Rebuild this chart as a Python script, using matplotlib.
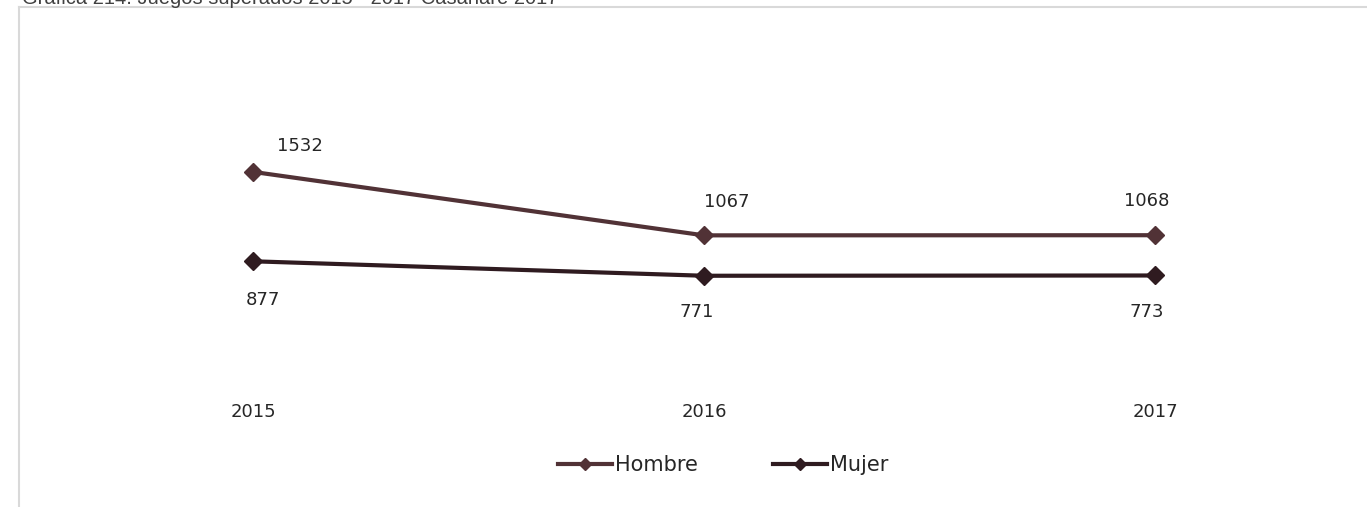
import matplotlib.pyplot as plt
from matplotlib.lines import Line2D

years = ['2015', '2016', '2017']
hombre = [1532, 1067, 1068]
mujer = [877, 771, 773]

c_hombre = '#513236'
c_mujer = '#2f1b20'

# label offsets in pixels (from each point)
off_h = [(47, 26), (23, 33), (-8, 34)]
off_m = [(10, -39), (-7, -36), (-8, -37)]

fig = plt.figure(figsize=(13.67, 5.07), dpi=100)
ax = fig.add_axes([253 / 1367, 126 / 507, 902 / 1367, 1800 * 0.1365 / 507])

x = list(range(len(years)))
ax.plot(x, hombre, color=c_hombre, lw=3, marker='D', ms=9.5, clip_on=False, label='Hombre')
ax.plot(x, mujer, color=c_mujer, lw=3, marker='D', ms=9.5, clip_on=False, label='Mujer')

for i in x:
    ax.annotate(str(hombre[i]), (i, hombre[i]), xytext=off_h[i], textcoords='offset pixels',
                ha='center', va='center', fontsize=13, color='#262626')
    ax.annotate(str(mujer[i]), (i, mujer[i]), xytext=off_m[i], textcoords='offset pixels',
                ha='center', va='center', fontsize=13, color='#262626')

ax.set_xlim(0, 2)
ax.set_ylim(0, 1800)
ax.set_xticks(x)
ax.set_xticklabels(years, fontsize=13, color='#262626')
ax.tick_params(axis='x', length=0, pad=16)
ax.set_yticks([])
for s in ax.spines.values():
    s.set_visible(False)

fig.legend(loc='center', bbox_to_anchor=(723 / 1367, 1 - 465 / 507), ncol=2, frameon=False,
           fontsize=15, handlelength=2.6, handletextpad=0.15, columnspacing=3.6,
           markerscale=0.6, labelcolor='#262626')

# outer chart border
fig.add_artist(Line2D([18.5 / 1367, 18.5 / 1367], [0, 1 - 6.5 / 507], color='#d9d9d9', lw=1.5,
                      transform=fig.transFigure))
fig.add_artist(Line2D([18.5 / 1367, 1], [1 - 6.5 / 507, 1 - 6.5 / 507], color='#d9d9d9', lw=1.5,
                      transform=fig.transFigure))

# title, clipped at the top edge as in the source
fig.text(22 / 1367, 1 - 3.5 / 507, 'Gráfica 214. Juegos superados 2015 - 2017 Casanare 2017',
         fontsize=14.5, family='Liberation Sans', color='#404040', va='baseline', ha='left')

fig.savefig('out.png', dpi=100)
